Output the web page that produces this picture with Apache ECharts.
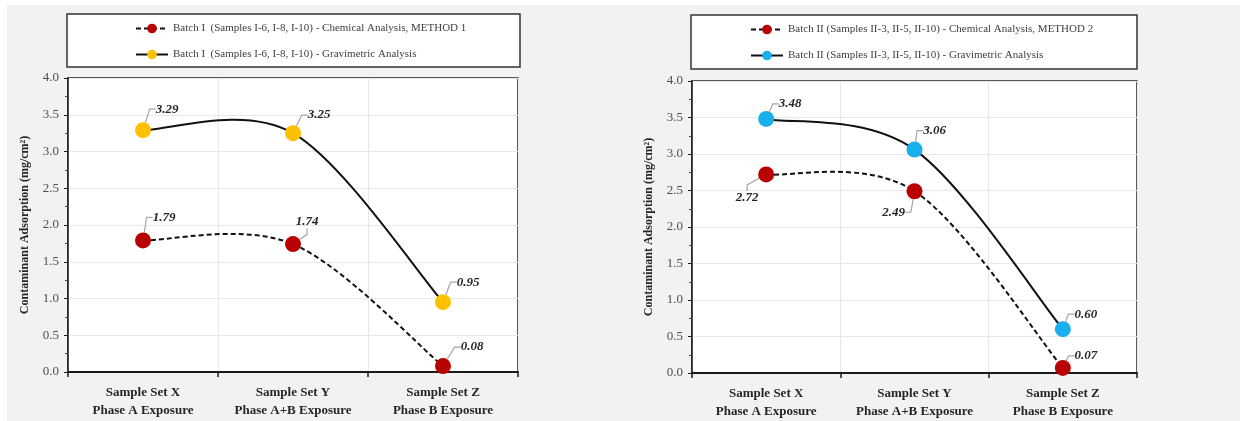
<!DOCTYPE html>
<html>
<head>
<meta charset="utf-8">
<script src="https://cdn.jsdelivr.net/npm/echarts@6/dist/echarts.min.js"></script>
<style>
html,body{margin:0;padding:0;background:#fff;}
#c{width:1244px;height:421px;}
</style>
</head>
<body>
<div id="c"></div>
<script>
const categories = ['Sample Set X\nPhase A Exposure', 'Sample Set Y\nPhase A+B Exposure', 'Sample Set Z\nPhase B Exposure'];
const leftChemName = 'Batch I  (Samples I-6, I-8, I-10) - Chemical Analysis, METHOD 1';
const leftGravName = 'Batch I  (Samples I-6, I-8, I-10) - Gravimetric Analysis';
const rightChemName = 'Batch II (Samples II-3, II-5, II-10) - Chemical Analysis, METHOD 2';
const rightGravName = 'Batch II (Samples II-3, II-5, II-10) - Gravimetric Analysis';
const leftChem = [1.79, 1.74, 0.08];
const leftGrav = [3.29, 3.25, 0.95];
const rightChem = [2.72, 2.49, 0.07];
const rightGrav = [3.48, 3.06, 0.60];
const yTicks = { min: 0, max: 4, interval: 0.5 };
const yName = 'Contaminant Adsorption (mg/cm\u00B2)';

// label offsets (px) relative to points
const offLeftChem = [[21, -23], [14, -22], [29, -19]];
const offLeftGrav = [[24, -21], [26, -18], [25, -20]];
const offRightChem = [[-19, 23], [-21, 21], [23, -12]];
const offRightGrav = [[24, -15], [20, -19], [23, -15]];

const serif = '"Liberation Serif", "Times New Roman", serif';
const RED = '#b80000', YEL = '#ffc000', BLU = '#18b0ec';
const LINE = '#111111';
const DASH = [5, 3];

function xAxis(gi) {
  return {
    type: 'category', gridIndex: gi, data: categories, boundaryGap: true,
    axisLine: { show: true, lineStyle: { color: '#1a1a1a', width: 2 } },
    axisTick: { show: true, interval: 0, length: 5, lineStyle: { color: '#1a1a1a', width: 1.5 } },
    splitLine: { show: true, interval: 0, lineStyle: { color: '#e8e8e8', width: 1 } },
    axisLabel: { interval: 0, fontFamily: serif, fontWeight: 'bold', fontSize: 13, color: '#262626', lineHeight: 18, margin: 12 }
  };
}
function yAxis(gi) {
  return {
    type: 'value', gridIndex: gi, min: yTicks.min, max: yTicks.max, interval: yTicks.interval,
    name: yName, nameLocation: 'middle', nameGap: 37, nameRotate: 90,
    nameTextStyle: { fontFamily: serif, fontWeight: 'bold', fontSize: 12, color: '#262626' },
    axisLine: { show: true, lineStyle: { color: '#1a1a1a', width: 1.5 } },
    axisTick: { show: true, length: 4, lineStyle: { color: '#1a1a1a' } },
    minorTick: { show: true, splitNumber: 2, length: 3, lineStyle: { color: '#444' } },
    splitLine: { show: true, lineStyle: { color: '#e8e8e8', width: 1 } },
    axisLabel: { fontFamily: serif, fontSize: 13, color: '#4d4d4d', margin: 9, formatter: v => v.toFixed(1) }
  };
}
// Excel-style smoothed curve segments drawn through the axis scales
function curve(name, values, gi, dashed) {
  return {
    name: name + ' curve', type: 'custom', coordinateSystem: 'cartesian2d',
    xAxisIndex: gi, yAxisIndex: gi, data: values.map((v, i) => [i, v]),
    silent: true, z: 2,
    renderItem: (params, api) => {
      const i = params.dataIndex, n = values.length;
      if (i >= n - 1) return null;
      const P = k => { k = Math.max(0, Math.min(n - 1, k)); return api.coord([k, values[k]]); };
      const p0 = P(i - 1), p1 = P(i), p2 = P(i + 1), p3 = P(i + 2);
      const t = 1 / 6;
      return {
        type: 'bezierCurve',
        shape: {
          x1: p1[0], y1: p1[1], x2: p2[0], y2: p2[1],
          cpx1: p1[0] + (p2[0] - p0[0]) * t, cpy1: p1[1] + (p2[1] - p0[1]) * t,
          cpx2: p2[0] - (p3[0] - p1[0]) * t, cpy2: p2[1] - (p3[1] - p1[1]) * t
        },
        style: { fill: null, stroke: LINE, lineWidth: 2, lineDash: dashed ? DASH : null }
      };
    }
  };
}
function series(name, data, gi, color, offs) {
  return {
    name, type: 'line', xAxisIndex: gi, yAxisIndex: gi, data,
    symbol: 'circle', symbolSize: 16,
    itemStyle: { color: color },
    lineStyle: { width: 0, opacity: 0 },
    label: {
      show: true, position: 'inside', formatter: p => p.value.toFixed(2),
      fontFamily: serif, fontWeight: 'bold', fontStyle: 'italic', fontSize: 13, color: '#262626'
    },
    labelLine: { show: true, length2: 6, lineStyle: { color: '#a6a6a6', width: 1.2 } },
    labelLayout: p => ({ dx: offs[p.dataIndex][0], dy: offs[p.dataIndex][1] }),
    emphasis: { disabled: true },
    z: 3
  };
}
function legendItem(name, color, dashed) {
  return { name, itemStyle: { color: color }, lineStyle: { color: LINE, width: 2, opacity: 1, type: dashed ? DASH : 'solid' } };
}

const chart = echarts.init(document.getElementById('c'));
chart.setOption({
  animation: false,
  backgroundColor: '#ffffff',
  graphic: [
    { type: 'rect', z: -10, shape: { x: 7, y: 5, width: 1233, height: 416 }, style: { fill: '#f2f2f2' } },
    { type: 'rect', z: -5, shape: { x: 67, y: 14, width: 453, height: 53 }, style: { fill: '#fff', stroke: '#333', lineWidth: 1.5 } },
    { type: 'rect', z: -5, shape: { x: 691, y: 15, width: 446, height: 54 }, style: { fill: '#fff', stroke: '#333', lineWidth: 1.5 } }
  ],
  legend: [
    { data: [legendItem(leftChemName, RED, true), legendItem(leftGravName, YEL, false)],
      left: 130, top: 18, orient: 'vertical', itemGap: 15, itemWidth: 32, itemHeight: 12,
      textStyle: { fontFamily: serif, fontSize: 11, color: '#404040' } },
    { data: [legendItem(rightChemName, RED, true), legendItem(rightGravName, BLU, false)],
      left: 745, top: 19, orient: 'vertical', itemGap: 15, itemWidth: 32, itemHeight: 12,
      textStyle: { fontFamily: serif, fontSize: 11, color: '#404040' } }
  ],
  grid: [
    { left: 68, top: 78, width: 450, height: 294, show: true, backgroundColor: '#fff', borderColor: '#262626', borderWidth: 1.5 },
    { left: 692, top: 81, width: 445, height: 293, show: true, backgroundColor: '#fff', borderColor: '#262626', borderWidth: 1.5 }
  ],
  xAxis: [xAxis(0), xAxis(1)],
  yAxis: [yAxis(0), yAxis(1)],
  series: [
    curve(leftChemName, leftChem, 0, true),
    curve(leftGravName, leftGrav, 0, false),
    curve(rightChemName, rightChem, 1, true),
    curve(rightGravName, rightGrav, 1, false),
    series(leftChemName, leftChem, 0, RED, offLeftChem),
    series(leftGravName, leftGrav, 0, YEL, offLeftGrav),
    series(rightChemName, rightChem, 1, RED, offRightChem),
    series(rightGravName, rightGrav, 1, BLU, offRightGrav)
  ]
});
</script>
</body>
</html>
